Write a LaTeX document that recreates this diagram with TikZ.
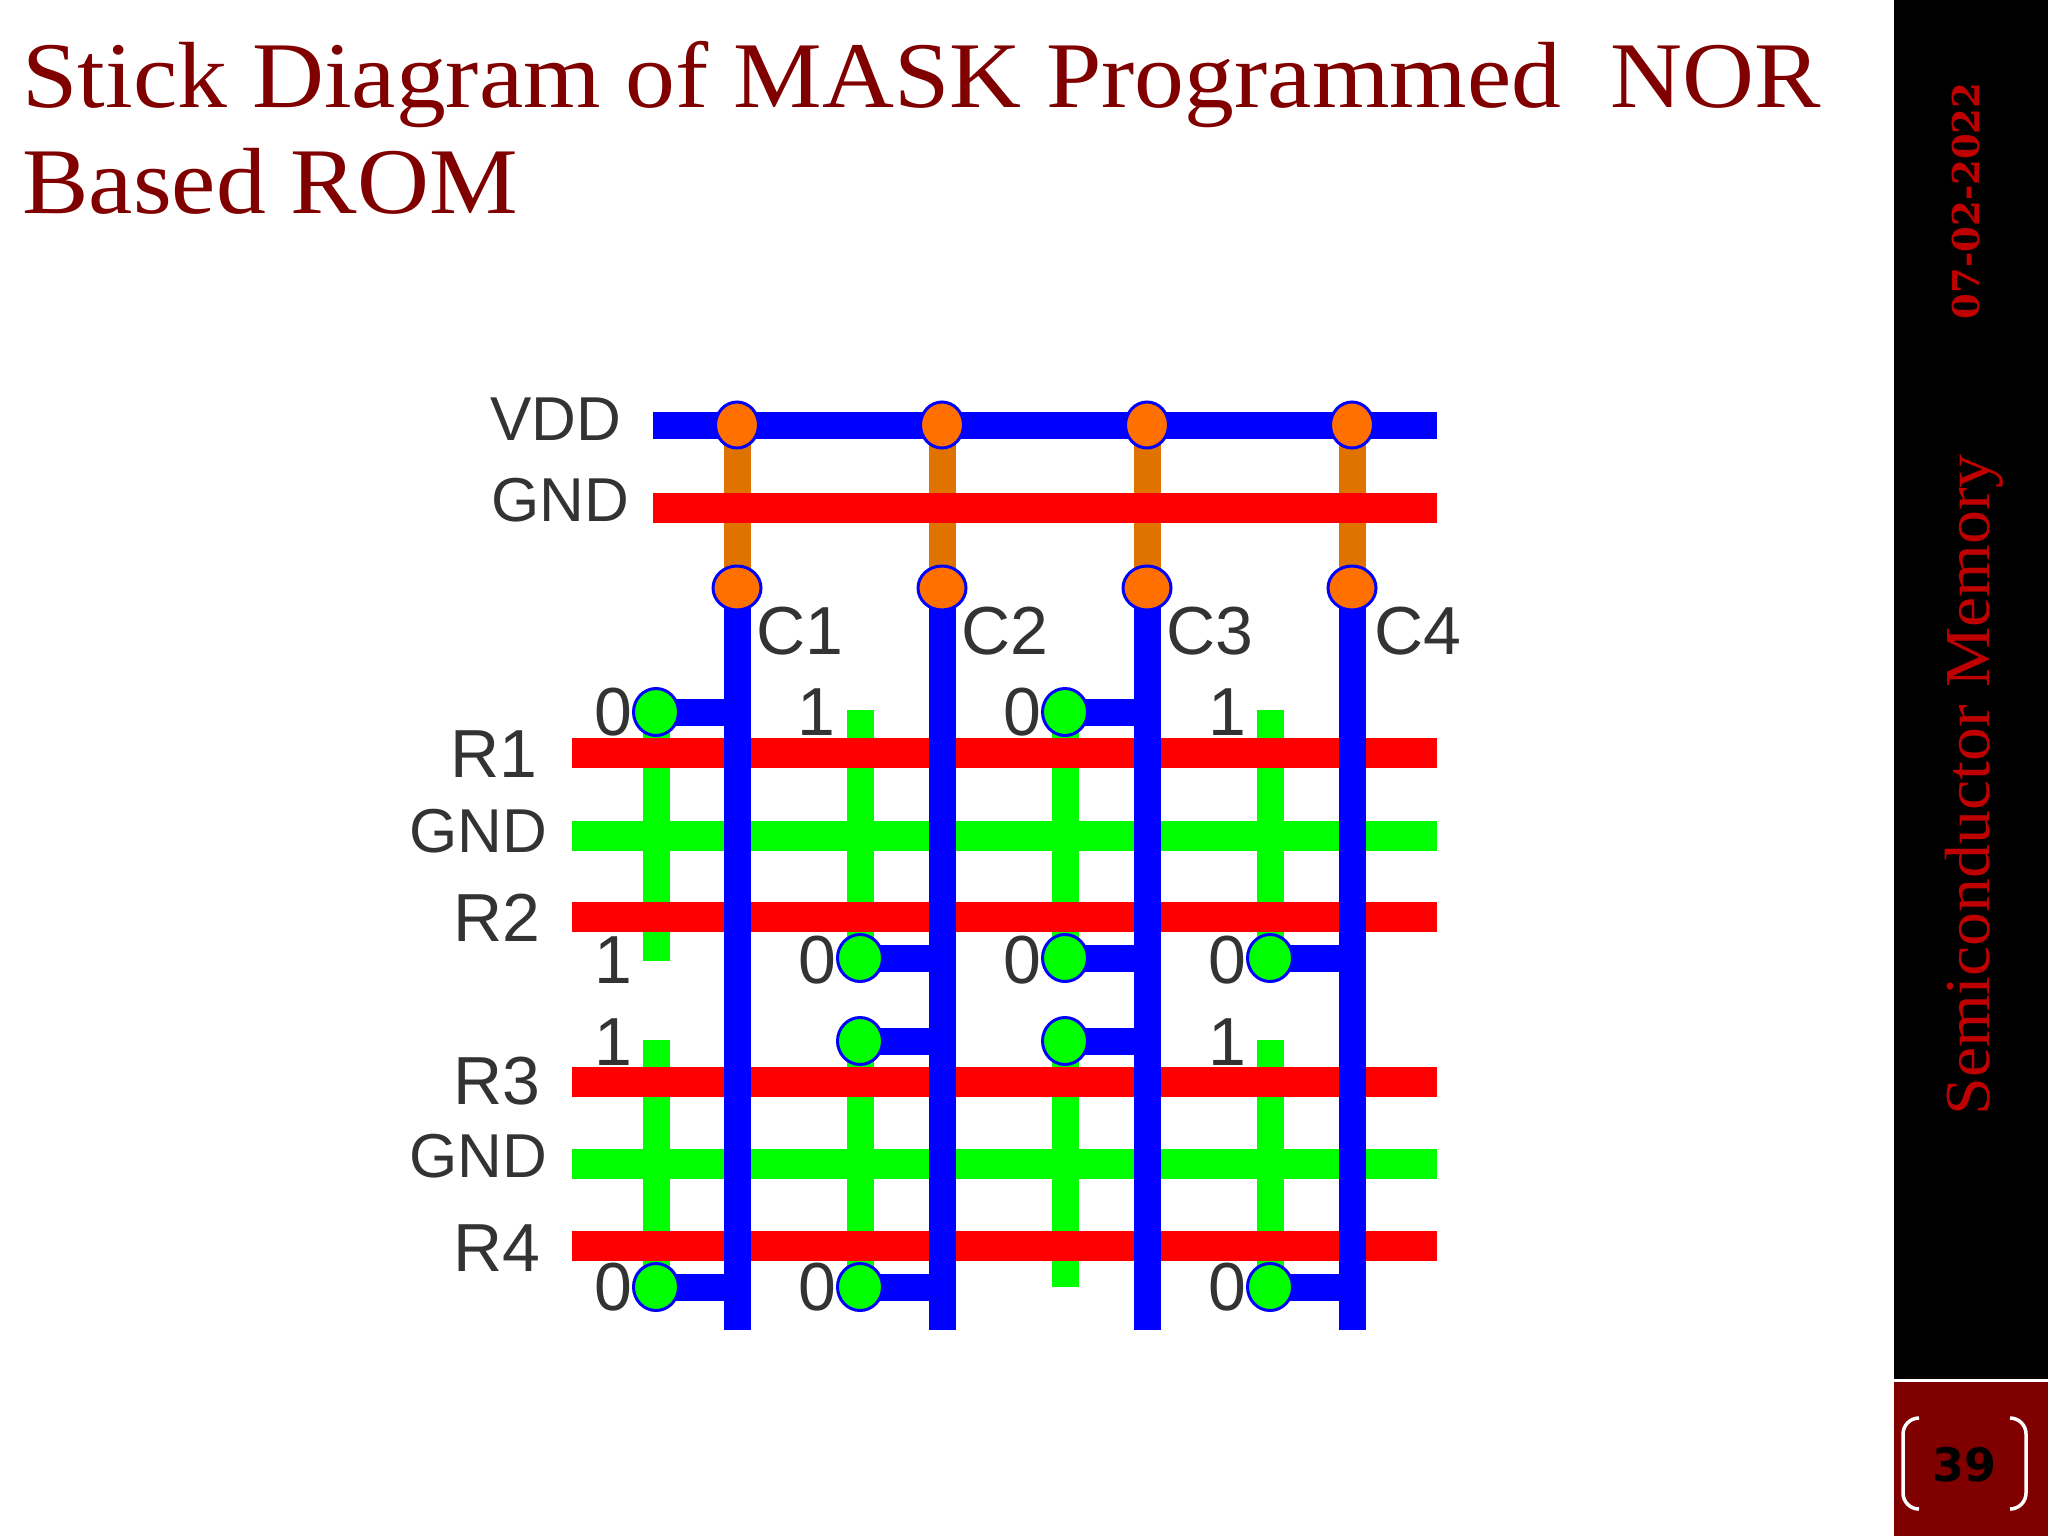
\documentclass[tikz,border=0pt]{standalone}
\usepackage{fontspec}
\usetikzlibrary{shapes.geometric}
\setmainfont{Liberation Sans}
\newfontfamily\titlefont[FakeStretch=1.06]{Liberation Serif}
\newfontfamily\datefont{DejaVu Serif}
\newfontfamily\numfont{DejaVu Sans}
\definecolor{slideRed}{rgb}{0.5, 0.0, 0.0}
\definecolor{wireBlue}{rgb}{0.0, 0.0, 1.0}
\definecolor{wireRed}{rgb}{1.0, 0.0, 0.0}
\definecolor{wireGreen}{rgb}{0.0, 1.0, 0.0}
\definecolor{wireOrange}{rgb}{0.88, 0.45, 0.0}
\definecolor{dotOrange}{rgb}{1.0, 0.44, 0.0}
\definecolor{labelGray}{rgb}{0.2, 0.2, 0.2}
\tikzset{
    bluewire/.style={wireBlue, line width=13.5pt},
    redwire/.style={wireRed, line width=15pt},
    greenwire/.style={wireGreen, line width=15pt},
    greenleg/.style={wireGreen, line width=13.5pt},
    orangeleg/.style={wireOrange, line width=13.5pt},
    via/.style={ellipse, draw=wireBlue, line width=1.5pt, inner sep=0pt},
    greenvia/.style={via, fill=wireGreen, minimum width=22.5pt, minimum height=23.5pt},
    topvia/.style={via, fill=dotOrange, minimum width=21.5pt, minimum height=23pt},
    lowvia/.style={via, fill=dotOrange, minimum width=24pt, minimum height=22pt},
    bracket/.style={white, line width=1.75pt, rounded corners=8pt},
    biglabel/.style={text=labelGray, font=\fontsize{34}{34}\selectfont, inner sep=0pt},
    smalllabel/.style={text=labelGray, font=\fontsize{31}{31}\selectfont, inner sep=0pt},
    titleline/.style={anchor=base west, text=slideRed, inner sep=0pt, font=\titlefont\fontsize{47}{47}\selectfont}
}
\begin{document}
\begin{tikzpicture}[x=0.5pt, y=-0.5pt]
            \useasboundingbox (0,0) rectangle (2048,1536);

            % side bar
            \fill[black] (1894,0) rectangle (2048,1379);
            \fill[slideRed] (1894,1382) rectangle (2048,1536);
            \draw[bracket] (1919,1418) -- (1903,1418) -- (1903,1509) -- (1919,1509);
            \draw[bracket] (2010,1418) -- (2026,1418) -- (2026,1509) -- (2010,1509);
            \node[inner sep=0pt, font=\numfont\bfseries\fontsize{23}{23}\selectfont] (pagenum) at (1964,1465) {39};
            \node[rotate=90, text=wireRed!75!black, inner sep=0pt, font=\titlefont\fontsize{32}{32}\selectfont] (topic) at (1974,785) {Semiconductor Memory};
            \node[rotate=90, text=wireRed!75!black, inner sep=0pt, font=\datefont\bfseries\fontsize{18.5}{18.5}\selectfont] (date) at (1966,201) {07-02-2022};

            % title
            \node[titleline] (title1) at (22,107) {Stick Diagram of MASK Programmed\ \ NOR};
            \node[titleline] (title2) at (22,213) {Based ROM};

            % labels
            \node[smalllabel] (vdd) at (556,419) {VDD};
            \node[smalllabel] (gnd0) at (560,500) {GND};
            \node[smalllabel] (gnd1) at (478,831) {GND};
            \node[smalllabel] (gnd2) at (478,1156) {GND};
            \node[biglabel] (r1) at (494,754) {R1};
            \node[biglabel] (r2) at (497,918) {R2};
            \node[biglabel] (r3) at (497,1081) {R3};
            \node[biglabel] (r4) at (497,1248) {R4};
            \node[biglabel] (c1) at (800,631) {C1};
            \node[biglabel] (c2) at (1005,631) {C2};
            \node[biglabel] (c3) at (1210,631) {C3};
            \node[biglabel] (c4) at (1418,631) {C4};

            % bits
            \node[biglabel] (bit11) at (613,712) {0};
            \node[biglabel] (bit12) at (816,712) {1};
            \node[biglabel] (bit13) at (1022,712) {0};
            \node[biglabel] (bit14) at (1227,712) {1};
            \node[biglabel] (bit21) at (613,960) {1};
            \node[biglabel] (bit22) at (817,960) {0};
            \node[biglabel] (bit23) at (1022,960) {0};
            \node[biglabel] (bit24) at (1227,960) {0};
            \node[biglabel] (bit31) at (613,1042) {1};
            \node[biglabel] (bit34) at (1227,1042) {1};
            \node[biglabel] (bit41) at (613,1287) {0};
            \node[biglabel] (bit42) at (817,1287) {0};
            \node[biglabel] (bit44) at (1227,1287) {0};

            % orange legs
            \draw[orangeleg] (737,425) -- (737,588);
            \draw[orangeleg] (942,425) -- (942,588);
            \draw[orangeleg] (1147,425) -- (1147,588);
            \draw[orangeleg] (1352,425) -- (1352,588);

            % green legs
            \draw[greenleg] (656,712) -- (656,961);
            \draw[greenleg] (860,710) -- (860,958);
            \draw[greenleg] (1065,712) -- (1065,958);
            \draw[greenleg] (1270,710) -- (1270,958);
            \draw[greenleg] (656,1040) -- (656,1287);
            \draw[greenleg] (860,1041) -- (860,1287);
            \draw[greenleg] (1065,1041) -- (1065,1287);
            \draw[greenleg] (1270,1040) -- (1270,1287);

            % rows
            \draw[greenwire] (572,836) -- (1437,836);
            \draw[greenwire] (572,1164) -- (1437,1164);
            \draw[redwire] (653,508) -- (1437,508);
            \draw[redwire] (572,753) -- (1437,753);
            \draw[redwire] (572,917) -- (1437,917);
            \draw[redwire] (572,1082) -- (1437,1082);
            \draw[redwire] (572,1246) -- (1437,1246);

            % columns and stubs
            \draw[bluewire] (653,425) -- (1437,425);
            \draw[bluewire] (737,588) -- (737,1330);
            \draw[bluewire] (942,588) -- (942,1330);
            \draw[bluewire] (1147,588) -- (1147,1330);
            \draw[bluewire] (1352,588) -- (1352,1330);
            \draw[bluewire] (656,712) -- (737,712);
            \draw[bluewire] (1065,712) -- (1147,712);
            \draw[bluewire] (860,958) -- (942,958);
            \draw[bluewire] (1065,958) -- (1147,958);
            \draw[bluewire] (1270,958) -- (1352,958);
            \draw[bluewire] (860,1041) -- (942,1041);
            \draw[bluewire] (1065,1041) -- (1147,1041);
            \draw[bluewire] (656,1287) -- (737,1287);
            \draw[bluewire] (860,1287) -- (942,1287);
            \draw[bluewire] (1270,1287) -- (1352,1287);

            % vias
            \node[topvia] (vt1) at (737,425) {};
            \node[topvia] (vt2) at (942,425) {};
            \node[topvia] (vt3) at (1147,425) {};
            \node[topvia] (vt4) at (1352,425) {};
            \node[lowvia] (vb1) at (737,588) {};
            \node[lowvia] (vb2) at (942,588) {};
            \node[lowvia] (vb3) at (1147,588) {};
            \node[lowvia] (vb4) at (1352,588) {};
            \node[greenvia] (v11) at (656,712) {};
            \node[greenvia] (v13) at (1065,712) {};
            \node[greenvia] (v22) at (860,958) {};
            \node[greenvia] (v23) at (1065,958) {};
            \node[greenvia] (v24) at (1270,958) {};
            \node[greenvia] (v32) at (860,1041) {};
            \node[greenvia] (v33) at (1065,1041) {};
            \node[greenvia] (v41) at (656,1287) {};
            \node[greenvia] (v42) at (860,1287) {};
            \node[greenvia] (v44) at (1270,1287) {};

        \end{tikzpicture}
\end{document}
